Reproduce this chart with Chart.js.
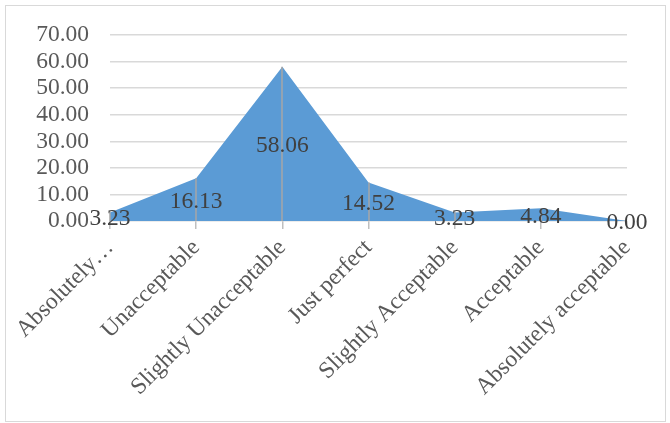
<!DOCTYPE html>
<html>
<head>
<meta charset="utf-8">
<script src="https://cdn.jsdelivr.net/npm/chart.js@4/dist/chart.umd.min.js"></script>
<style>
  html, body { margin: 0; padding: 0; background: #fff; }
  #frame { position: absolute; left: 5px; top: 5px; width: 659px; height: 415px; border: 1px solid #D9D9D9; }
  #c { position: absolute; left: 0; top: 0; }
</style>
</head>
<body>
<div id="frame"></div>
<canvas id="c" width="670" height="423"></canvas>
<script>
const categories = ['Absolutely\u2026', 'Unacceptable', 'Slightly Unacceptable', 'Just perfect', 'Slightly Acceptable', 'Acceptable', 'Absolutely acceptable'];
const percentages = [3.23, 16.13, 58.06, 14.52, 3.23, 4.84, 0.00];
const yMin = 0, yMax = 70, yStep = 10;

const FONT = 'Liberation Serif, Times New Roman, serif';
const NUM_SIZE = 23.5;
const CAT_SIZE = 23.5;

// vertical drop lines from each point down to the axis
const dropLines = {
  id: 'dropLines',
  afterDatasetsDraw(chart) {
    const ctx = chart.ctx;
    const meta = chart.getDatasetMeta(0);
    const y0 = chart.scales.y.getPixelForValue(0);
    ctx.save();
    ctx.strokeStyle = '#A6A6A6';
    ctx.lineWidth = 1.5;
    meta.data.forEach(pt => {
      ctx.beginPath();
      ctx.moveTo(Math.round(pt.x), pt.y);
      ctx.lineTo(Math.round(pt.x), y0);
      ctx.stroke();
    });
    ctx.restore();
  }
};

// value labels centred at half height of the area at each category
const valueLabels = {
  id: 'valueLabels',
  afterDatasetsDraw(chart) {
    const ctx = chart.ctx;
    const ys = chart.scales.y, xs = chart.scales.x;
    ctx.save();
    ctx.font = NUM_SIZE + 'px ' + FONT;
    ctx.fillStyle = '#404040';
    ctx.textAlign = 'center';
    ctx.textBaseline = 'middle';
    percentages.forEach((v, i) => {
      ctx.fillText(v.toFixed(2), xs.getPixelForValue(i), ys.getPixelForValue(v / 2) + 2);
    });
    ctx.restore();
  }
};

new Chart(document.getElementById('c'), {
  type: 'line',
  data: {
    labels: categories,
    datasets: [{
      data: percentages,
      fill: 'origin',
      backgroundColor: '#5B9BD5',
      borderWidth: 0,
      pointRadius: 0,
      tension: 0
    }]
  },
  options: {
    responsive: false,
    animation: false,
    layout: { padding: { left: 0, top: 34, right: 43, bottom: 0 } },
    plugins: { legend: { display: false }, tooltip: { enabled: false } },
    scales: {
      x: {
        offset: false,
        border: { display: false },
        grid: { display: true, drawOnChartArea: false, drawTicks: true, tickLength: 8, color: '#BFBFBF', lineWidth: 1.5 },
        ticks: {
          autoSkip: false, minRotation: 45, maxRotation: 45, padding: 5,
          color: '#595959', font: { family: FONT, size: CAT_SIZE }
        },
        afterFit(scale) { scale.height = 202; }
      },
      y: {
        min: yMin, max: yMax,
        border: { display: false },
        grid: { color: '#D9D9D9', lineWidth: 1.5, drawTicks: false },
        ticks: {
          stepSize: yStep, padding: 21, autoSkip: false,
          color: '#595959', font: { family: FONT, size: NUM_SIZE },
          callback: v => Number(v).toFixed(2)
        },
        afterFit(scale) { scale.width = 110; }
      }
    }
  },
  plugins: [dropLines, valueLabels]
});
</script>
</body>
</html>
